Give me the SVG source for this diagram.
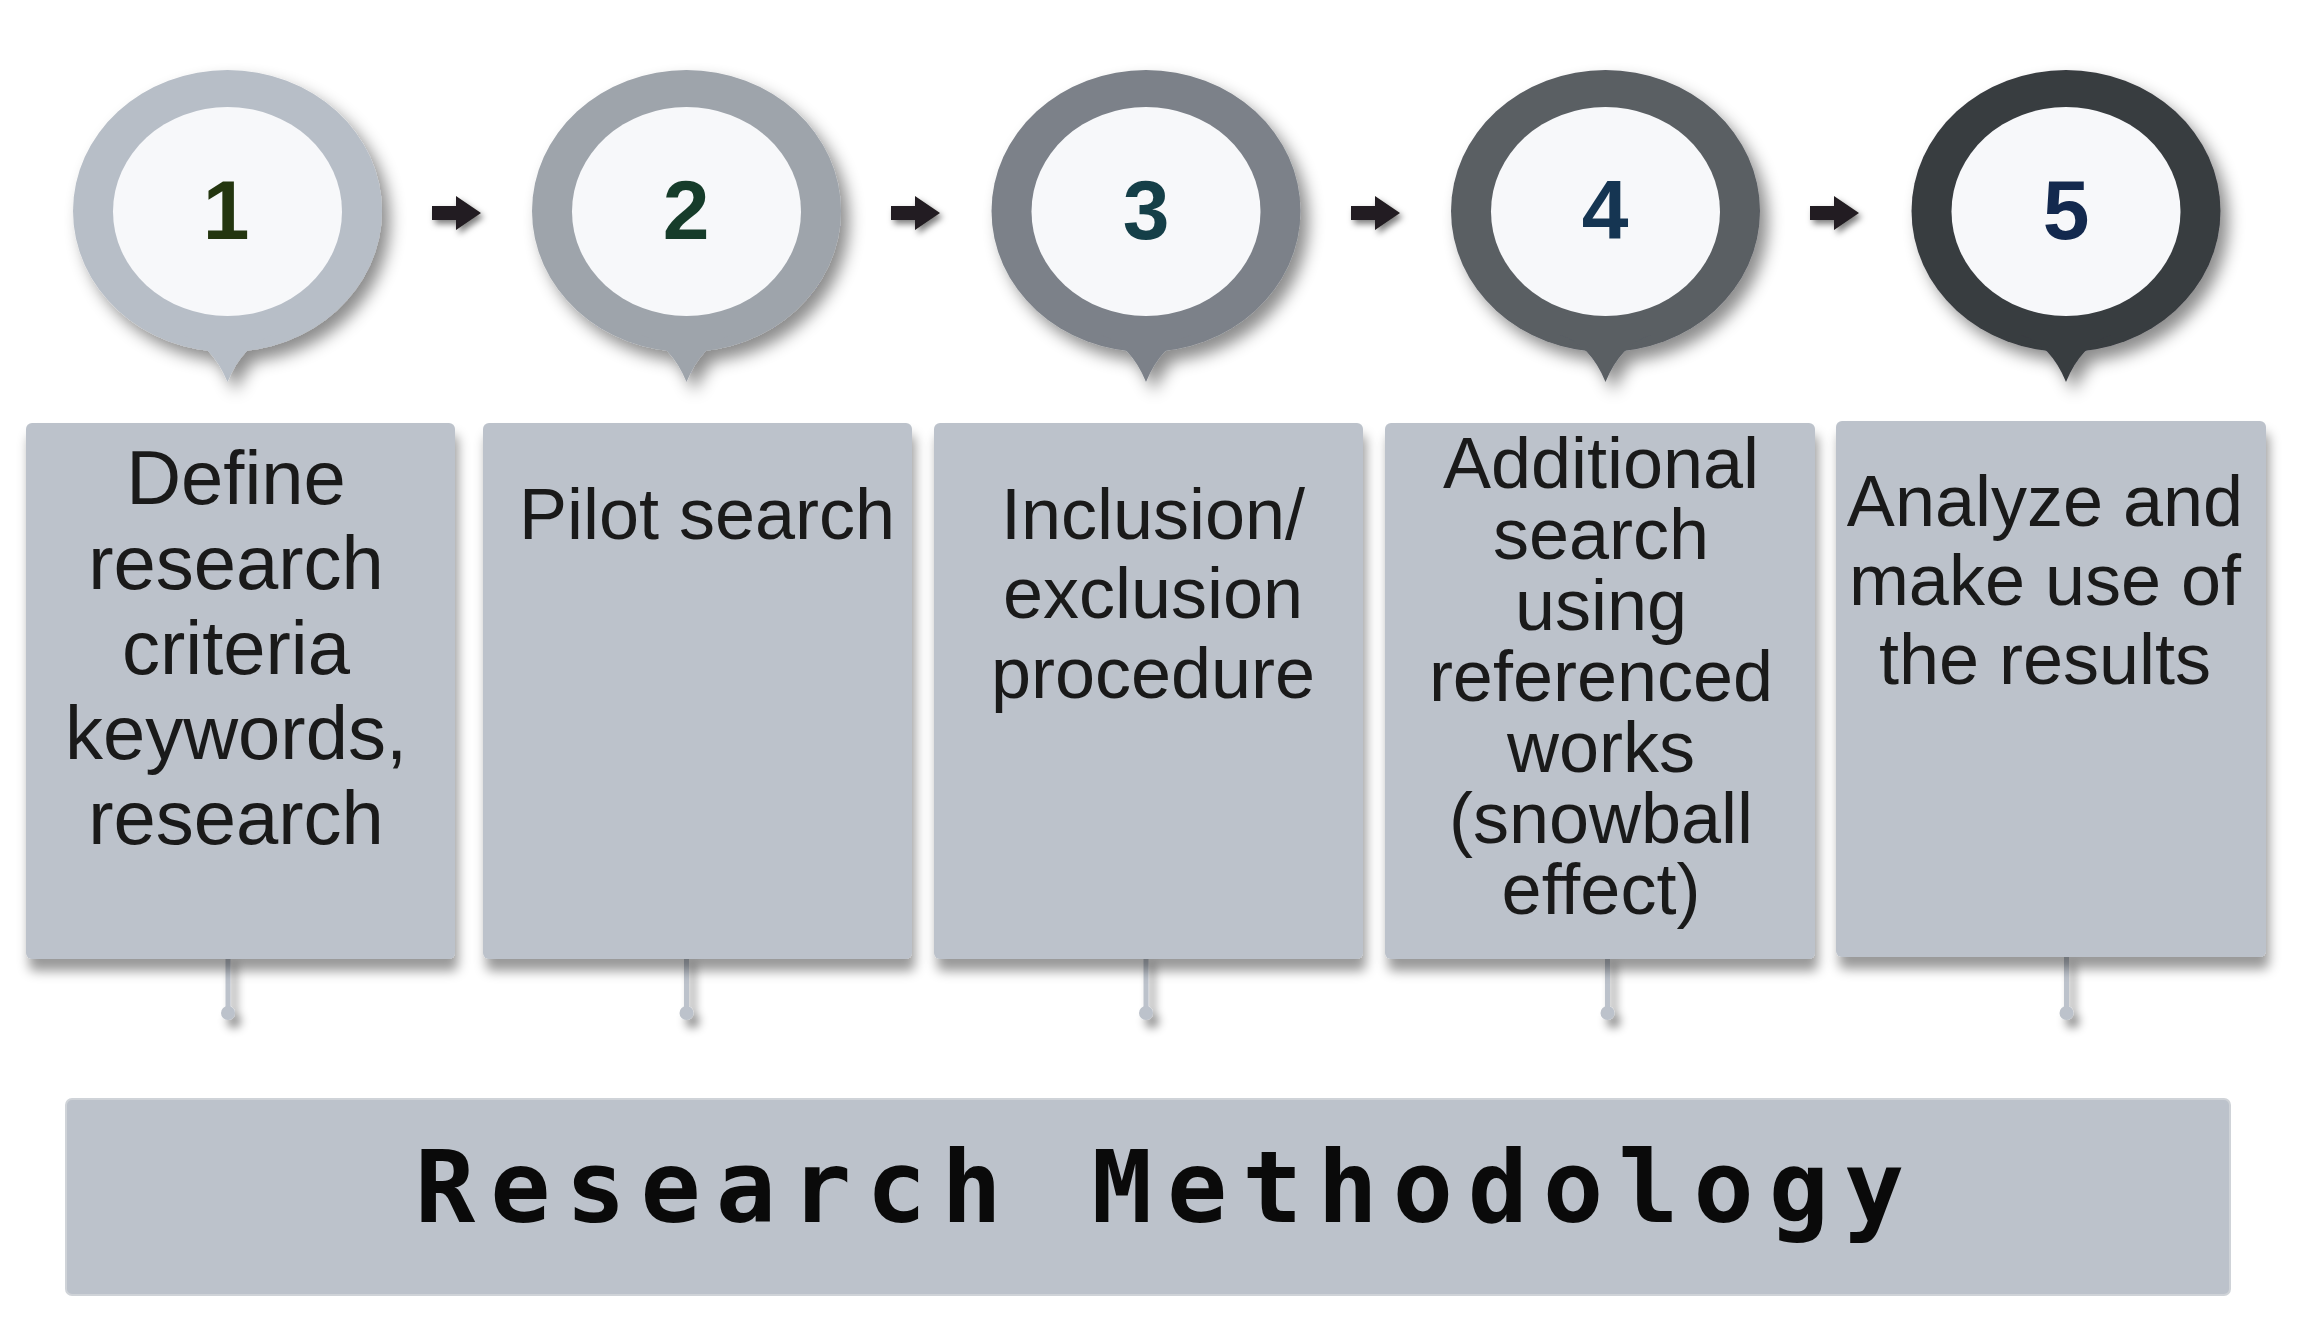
<svg xmlns="http://www.w3.org/2000/svg" width="2303" height="1332" viewBox="0 0 2303 1332">
  <defs>
    <filter id="shC" x="-30%" y="-30%" width="160%" height="160%">
      <feDropShadow dx="8" dy="10" stdDeviation="8" flood-color="#000" flood-opacity="0.45"/>
    </filter>
    <filter id="shB" x="-10%" y="-10%" width="120%" height="130%">
      <feDropShadow dx="3" dy="12" stdDeviation="6" flood-color="#000" flood-opacity="0.4"/>
    </filter>
    <filter id="shA" x="-50%" y="-50%" width="200%" height="200%">
      <feDropShadow dx="3" dy="4" stdDeviation="3" flood-color="#000" flood-opacity="0.5"/>
    </filter>
    <filter id="shS" x="-300%" y="-30%" width="700%" height="200%">
      <feDropShadow dx="6" dy="8" stdDeviation="5" flood-color="#000" flood-opacity="0.45"/>
    </filter>
  </defs>
  <style>
    .inner { fill: #f7f8fa; }
    .num { font-family: "Liberation Sans", Arial, sans-serif; font-weight: bold; font-size: 84px; text-anchor: middle; }
    .box { fill: #bcc2cb; }
    .bt { font-family: "Liberation Sans", Arial, sans-serif; font-size: 72px; fill: #1a1a1a; text-anchor: middle; }
    .arrow { fill: #231f20; }
    .stem { fill: #bcc2cb; }
    .title { font-family: "DejaVu Sans Mono", "Liberation Mono", monospace; font-weight: bold; font-size: 100px; letter-spacing: 15px; fill: #0a0a0a; }
  </style>
  <rect width="2303" height="1332" fill="#ffffff"/>

  <!-- bubbles -->
  <g id="node-1">
    <g filter="url(#shC)" fill="#b7bec7">
      <ellipse cx="227.5" cy="211" rx="154.5" ry="141"/>
      <path d="M182.5,335 Q212.5,345 227.5,382 Q242.5,345 272.5,335 Z"/>
    </g>
    <ellipse class="inner" cx="227.5" cy="211.5" rx="114.5" ry="104.5"/>
    <text class="num" x="226" y="239" fill="#24360f">1</text>
  </g>
  <g id="node-2">
    <g filter="url(#shC)" fill="#9ea4ab">
      <ellipse cx="686.5" cy="211" rx="154.5" ry="141"/>
      <path d="M641.5,335 Q671.5,345 686.5,382 Q701.5,345 731.5,335 Z"/>
    </g>
    <ellipse class="inner" cx="686.5" cy="211.5" rx="114.5" ry="104.5"/>
    <text class="num" x="686" y="239" fill="#163c2a">2</text>
  </g>
  <g id="node-3">
    <g filter="url(#shC)" fill="#7c8189">
      <ellipse cx="1146" cy="211" rx="154.5" ry="141"/>
      <path d="M1101,335 Q1131,345 1146,382 Q1161,345 1191,335 Z"/>
    </g>
    <ellipse class="inner" cx="1146" cy="211.5" rx="114.5" ry="104.5"/>
    <text class="num" x="1146" y="239" fill="#153f48">3</text>
  </g>
  <g id="node-4">
    <g filter="url(#shC)" fill="#5a5e64">
      <ellipse cx="1605.5" cy="211" rx="154.5" ry="141"/>
      <path d="M1560.5,335 Q1590.5,345 1605.5,382 Q1620.5,345 1650.5,335 Z"/>
    </g>
    <ellipse class="inner" cx="1605.5" cy="211.5" rx="114.5" ry="104.5"/>
    <text class="num" x="1605" y="239" fill="#153552">4</text>
  </g>
  <g id="node-5">
    <g filter="url(#shC)" fill="#393c41">
      <ellipse cx="2066" cy="211" rx="154.5" ry="141"/>
      <path d="M2021,335 Q2051,345 2066,382 Q2081,345 2111,335 Z"/>
    </g>
    <ellipse class="inner" cx="2066" cy="211.5" rx="114.5" ry="104.5"/>
    <text class="num" x="2066" y="239" fill="#13294e">5</text>
  </g>

  <!-- connectors -->
  <g id="connectors">
    <g filter="url(#shA)">
      <path class="arrow" d="M432,206 H456 V196 L481,213 L456,230 V220 H432 Z"/>
      <path class="arrow" d="M891,206 H915 V196 L940,213 L915,230 V220 H891 Z"/>
      <path class="arrow" d="M1351,206 H1375 V196 L1400,213 L1375,230 V220 H1351 Z"/>
      <path class="arrow" d="M1810,206 H1834 V196 L1859,213 L1834,230 V220 H1810 Z"/>
    </g>
    <g filter="url(#shS)">
      <g class="stem">
        <rect x="225.5" y="955" width="5" height="55"/><circle cx="228" cy="1013" r="7"/>
        <rect x="684" y="955" width="5" height="55"/><circle cx="686.5" cy="1013" r="7"/>
        <rect x="1143.5" y="955" width="5" height="55"/><circle cx="1146" cy="1013" r="7"/>
        <rect x="1605" y="955" width="5" height="55"/><circle cx="1607.5" cy="1013" r="7"/>
        <rect x="2064" y="955" width="5" height="55"/><circle cx="2066.5" cy="1013" r="7"/>
      </g>
    </g>
  </g>

  <!-- boxes -->
  <g id="box-1">
    <rect class="box" x="26" y="423" width="429" height="536" rx="6" filter="url(#shB)"/>
    <text class="bt" style="font-size:76px" x="236"><tspan x="236" y="504">Define</tspan><tspan x="236" y="589">research</tspan><tspan x="236" y="674">criteria</tspan><tspan x="236" y="759">keywords,</tspan><tspan x="236" y="844">research</tspan></text>
  </g>
  <g id="box-2">
    <rect class="box" x="483" y="423" width="429" height="536" rx="6" filter="url(#shB)"/>
    <text class="bt" x="707" y="539">Pilot search</text>
  </g>
  <g id="box-3">
    <rect class="box" x="934" y="423" width="429" height="536" rx="6" filter="url(#shB)"/>
    <text class="bt" x="1153"><tspan x="1153" y="539">Inclusion/</tspan><tspan x="1153" y="618">exclusion</tspan><tspan x="1153" y="698">procedure</tspan></text>
  </g>
  <g id="box-4">
    <rect class="box" x="1385" y="423" width="430" height="536" rx="6" filter="url(#shB)"/>
    <text class="bt" x="1601"><tspan x="1601" y="488">Additional</tspan><tspan x="1601" y="559">search</tspan><tspan x="1601" y="630">using</tspan><tspan x="1601" y="701">referenced</tspan><tspan x="1601" y="772">works</tspan><tspan x="1601" y="843">(snowball</tspan><tspan x="1601" y="914">effect)</tspan></text>
  </g>
  <g id="box-5">
    <rect class="box" x="1836" y="421" width="430" height="536" rx="6" filter="url(#shB)"/>
    <text class="bt" x="2045"><tspan x="2045" y="526">Analyze and</tspan><tspan x="2045" y="605">make use of</tspan><tspan x="2045" y="684">the results</tspan></text>
  </g>

  <!-- title -->
  <g id="title">
    <rect x="66" y="1099" width="2164" height="196" rx="6" fill="#bcc2cb" stroke="#cfd3d8" stroke-width="2"/>
    <text class="title" x="415" y="1222">Research Methodology</text>
  </g>
</svg>
